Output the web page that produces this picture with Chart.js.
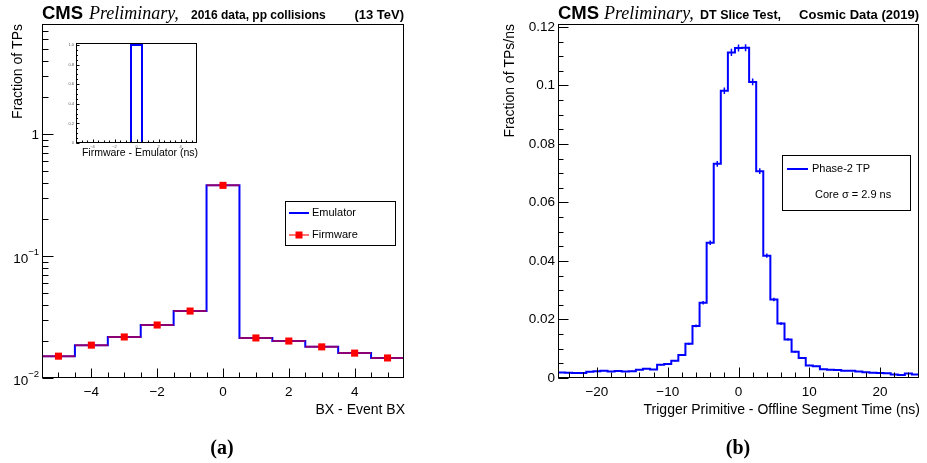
<!DOCTYPE html>
<html>
<head>
<meta charset="utf-8">
<script src="https://cdn.jsdelivr.net/npm/chart.js@4.4.1/dist/chart.umd.min.js"></script>
<style>
  body { margin: 0; background: #fff; width: 927px; height: 463px; overflow: hidden; position: relative; }
  canvas { position: absolute; top: 0; }
</style>
</head>
<body>
<canvas id="chart-bx" width="463" height="463" style="left:0"></canvas>
<canvas id="chart-inset" width="150" height="125" style="left:60px;top:35px"></canvas>
<canvas id="chart-time" width="464" height="463" style="left:463px"></canvas>
<script>
// ---- (a) BX of trigger primitives, 2016 pp data ----
const bxBins = [-5, -4, -3, -2, -1, 0, 1, 2, 3, 4, 5];
const emulatorFrac = [0.0151, 0.0186, 0.0217, 0.0272, 0.0354, 0.380, 0.0213, 0.0201, 0.0180, 0.0160, 0.0146];
const firmwareFrac = [0.0151, 0.0186, 0.0217, 0.0272, 0.0354, 0.380, 0.0213, 0.0201, 0.0180, 0.0160, 0.0146];
const bxTicks = [-4, -2, 0, 2, 4];
const logTicks = [0.01, 0.1, 1];

// inset: firmware - emulator
const diffBins = [-5, -4, -3, -2, -1, 0, 1, 2, 3, 4, 5];
const diffFrac = [0, 0, 0, 0, 0, 1, 0, 0, 0, 0, 0];
const diffXTicks = [-4, -2, 0, 2, 4];
const diffYTicks = [0, 0.2, 0.4, 0.6, 0.8, 1];

// ---- (b) DT slice test, cosmics 2019 ----
const timeBins = [-25, -24, -23, -22, -21, -20, -19, -18, -17, -16, -15, -14, -13, -12, -11, -10, -9, -8, -7, -6,
  -5, -4, -3, -2, -1, 0, 1, 2, 3, 4, 5, 6, 7, 8, 9, 10, 11, 12, 13, 14, 15, 16, 17, 18, 19, 20, 21, 22, 23, 24, 25];
const phase2Frac = [0.0019, 0.0018, 0.0017, 0.0017, 0.0021, 0.0023, 0.0025, 0.0022, 0.0024, 0.0022, 0.0023, 0.0028,
  0.0032, 0.0029, 0.0045, 0.0048, 0.0059, 0.0079, 0.0117, 0.0178, 0.0257, 0.0462, 0.0732, 0.0982, 0.1113, 0.1128,
  0.1129, 0.1012, 0.0707, 0.0418, 0.0268, 0.0186, 0.0132, 0.0090, 0.0068, 0.0043, 0.0040, 0.0030, 0.0028, 0.0027,
  0.0025, 0.0025, 0.0022, 0.0020, 0.0018, 0.0017, 0.0016, 0.0012, 0.0010, 0.0015, 0.0012];
const phase2Err = [0.00016, 0.00015, 0.00015, 0.00015, 0.00016, 0.00017, 0.00018, 0.00017, 0.00018, 0.00017, 0.00017,
  0.00019, 0.0002, 0.00019, 0.00024, 0.00025, 0.00028, 0.00032, 0.00039, 0.00048, 0.00058, 0.00077, 0.00097, 0.00113,
  0.0012, 0.0012, 0.0012, 0.00114, 0.00096, 0.00074, 0.00059, 0.00049, 0.00041, 0.00034, 0.0003, 0.00024, 0.00023,
  0.0002, 0.00019, 0.00019, 0.00018, 0.00018, 0.00017, 0.00016, 0.00015, 0.00015, 0.00014, 0.00012, 0.00011, 0.00014,
  0.00012];
const timeTicks = [-20, -10, 0, 10, 20];
const fracTicks = [0, 0.02, 0.04, 0.06, 0.08, 0.1, 0.12];

const SANS = "'Liberation Sans', Arial, Helvetica, sans-serif";
const SERIF = "'Liberation Serif', 'Times New Roman', serif";
Chart.defaults.font.family = SANS;
Chart.defaults.color = '#000';
Chart.defaults.animation = false;

// histogram outline: one horizontal segment per bin, joined by verticals
function histLine(centers, vals, w) {
  const pts = [];
  centers.forEach((c, i) => {
    pts.push({x: c - w / 2, y: vals[i]}, {x: c + w / 2, y: vals[i]});
  });
  return pts;
}
// horizontal bars (bin width) as separate segments
function xBars(centers, vals, w) {
  const pts = [];
  centers.forEach((c, i) => {
    pts.push({x: c - w / 2, y: vals[i]}, {x: c + w / 2, y: vals[i]}, {x: c, y: null});
  });
  return pts;
}
// vertical error bars
function yBars(centers, vals, errs) {
  const pts = [];
  centers.forEach((c, i) => {
    pts.push({x: c, y: vals[i] - errs[i]}, {x: c, y: vals[i] + errs[i]}, {x: c, y: null});
  });
  return pts;
}
function range(a, b, step) {
  const out = [];
  for (let v = a; v <= b + 1e-9; v += step) out.push(+v.toFixed(6));
  return out;
}
function minus(v) { return String(v).replace('-', '\u2212'); }

function txt(ctx, s, x, y, font, align, base) {
  ctx.font = font;
  ctx.textAlign = align || 'left';
  ctx.textBaseline = base || 'alphabetic';
  ctx.fillStyle = '#000';
  ctx.fillText(s, x, y);
}

// ROOT style frame with ticks pointing into the pad
function drawFrame(chart, cfg) {
  const ctx = chart.ctx, a = chart.chartArea;
  const L = Math.round(a.left) + 0.5, R = Math.round(a.right) - 0.5;
  const T = Math.round(a.top) + 0.5, B = Math.round(a.bottom) - 0.5;
  ctx.save();
  ctx.strokeStyle = '#000';
  ctx.lineWidth = 1;
  ctx.beginPath();
  ['x', 'y'].forEach(id => {
    const sc = chart.scales[id];
    [[cfg[id].major, cfg[id].len[0]], [cfg[id].minor, cfg[id].len[1]]].forEach(([vals, len]) => {
      vals.forEach(v => {
        const p = Math.round(sc.getPixelForValue(v)) + 0.5;
        if (id === 'x') { if (p < L || p > R) return; ctx.moveTo(p, B); ctx.lineTo(p, B - len); }
        else { if (p < T || p > B + 1) return; ctx.moveTo(L, p); ctx.lineTo(L + len, p); }
      });
    });
  });
  ctx.stroke();
  ctx.lineWidth = cfg.frameWidth || 1;
  ctx.strokeRect(L, T, R - L, B - T);
  ctx.restore();
}

function fixSize(w, h) {
  return function (scale) {
    if (w !== undefined) scale.width = w;
    if (h !== undefined) scale.height = h;
  };
}
function setTicks(list) {
  return function (scale) { scale.ticks = list.map(v => ({value: v})); };
}

// ---------------- (a) main ----------------
let logMinor = [];
logTicks.forEach(d => { for (let k = 2; k <= 9; k++) if (k * d <= 8) logMinor.push(k * d); });

new Chart(document.getElementById('chart-bx'), {
  type: 'line',
  data: {
    datasets: [
      {
        label: 'Firmware',
        data: bxBins.map((c, i) => ({x: c, y: firmwareFrac[i]})),
        showLine: false,
        pointStyle: 'rect',
        pointRadius: 5,
        pointBorderWidth: 0,
        pointBackgroundColor: '#ff0000'
      },
      {
        label: 'Firmware bars',
        data: xBars(bxBins, firmwareFrac, 1),
        borderColor: 'rgba(255,0,0,0.55)',
        borderWidth: 2,
        pointRadius: 0
      },
      {
        label: 'Emulator',
        data: histLine(bxBins, emulatorFrac, 1),
        borderColor: '#0000ff',
        borderWidth: 2,
        pointRadius: 0
      }
    ]
  },
  options: {
    responsive: false,
    layout: {padding: {left: 0, right: 59, top: 24, bottom: 55}},
    plugins: {legend: {display: false}, tooltip: {enabled: false}},
    scales: {
      x: {
        type: 'linear', min: -5.5, max: 5.5,
        grid: {display: false, drawTicks: false}, border: {display: false},
        afterFit: fixSize(undefined, 30),
        afterBuildTicks: setTicks(bxTicks),
        ticks: {padding: 6, font: {size: 13.5}, maxRotation: 0, autoSkip: false, callback: v => minus(v)}
      },
      y: {
        type: 'logarithmic', min: 0.01, max: 8, bounds: 'data',
        grid: {display: false, drawTicks: false}, border: {display: false},
        afterFit: fixSize(42, undefined),
        afterBuildTicks: setTicks(logTicks),
        ticks: {display: false}
      }
    }
  },
  plugins: [{
    id: 'decorA',
    afterDraw(chart) {
      const ctx = chart.ctx;
      drawFrame(chart, {
        x: {major: bxTicks, minor: range(-5.5, 5.5, 0.5), len: [9, 5]},
        y: {major: logTicks, minor: logMinor, len: [11, 6]}
      });
      // log tick labels with superscripts
      const ys = chart.scales.y;
      const right = chart.chartArea.left - 3;
      logTicks.forEach(v => {
        const p = ys.getPixelForValue(v);
        if (v === 1) { txt(ctx, '1', right, p + 5, '13.5px ' + SANS, 'right'); return; }
        const exp = '\u2212' + Math.round(-Math.log10(v));
        ctx.font = '9.5px ' + SANS;
        const we = ctx.measureText(exp).width;
        txt(ctx, exp, right, p - 1, '9.5px ' + SANS, 'right');
        txt(ctx, '10', right - we, p + 7, '13.5px ' + SANS, 'right');
      });
      // header
      txt(ctx, 'CMS', 42, 19, 'bold 18.5px ' + SANS);
      txt(ctx, 'Preliminary,', 89, 19, 'italic 18px ' + SERIF);
      txt(ctx, '2016 data, pp collisions', 191, 19, 'bold 12px ' + SANS);
      txt(ctx, '(13 TeV)', 404, 19, 'bold 13px ' + SANS, 'right');
      // axis titles
      txt(ctx, 'BX - Event BX', 405, 414, '14px ' + SANS, 'right');
      ctx.save();
      ctx.translate(18, 24);
      ctx.rotate(-Math.PI / 2);
      txt(ctx, 'Fraction of TPs', 0, 0, '14px ' + SANS, 'right', 'middle');
      ctx.restore();
      // legend
      ctx.save();
      ctx.strokeStyle = '#000';
      ctx.lineWidth = 1;
      ctx.strokeRect(285.5, 201.5, 110, 44);
      ctx.beginPath();
      ctx.strokeStyle = '#0000ff'; ctx.lineWidth = 2;
      ctx.moveTo(289, 213); ctx.lineTo(309, 213); ctx.stroke();
      ctx.beginPath();
      ctx.strokeStyle = 'rgba(255,0,0,0.55)';
      ctx.moveTo(289, 235); ctx.lineTo(309, 235); ctx.stroke();
      ctx.fillStyle = '#ff0000';
      ctx.fillRect(295.5, 231.5, 7, 7);
      ctx.restore();
      txt(ctx, 'Emulator', 312, 213, '11px ' + SANS, 'left', 'middle');
      txt(ctx, 'Firmware', 312, 235, '11px ' + SANS, 'left', 'middle');
      // panel letter
      txt(ctx, '(a)', 222, 454, 'bold 20px ' + SERIF, 'center');
    }
  }]
});

// ---------------- (a) inset ----------------
new Chart(document.getElementById('chart-inset'), {
  type: 'line',
  data: {
    datasets: [{
      label: 'Firmware - Emulator',
      data: histLine(diffBins, diffFrac, 1),
      borderColor: '#0000ff',
      borderWidth: 2,
      pointRadius: 0
    }]
  },
  options: {
    responsive: false,
    layout: {padding: {left: 0, right: 13, top: 8, bottom: 7}},
    plugins: {legend: {display: false}, tooltip: {enabled: false}},
    scales: {
      x: {
        type: 'linear', min: -5.5, max: 5.5,
        grid: {display: false, drawTicks: false}, border: {display: false},
        afterFit: fixSize(undefined, 10),
        afterBuildTicks: setTicks(diffXTicks),
        ticks: {padding: 1, font: {size: 4}, color: '#555', maxRotation: 0, autoSkip: false, callback: v => minus(v)}
      },
      y: {
        type: 'linear', min: 0, max: 1.02,
        grid: {display: false, drawTicks: false}, border: {display: false},
        afterFit: fixSize(16, undefined),
        afterBuildTicks: setTicks(diffYTicks),
        ticks: {padding: 2, font: {size: 4}, color: '#555', autoSkip: false}
      }
    }
  },
  plugins: [{
    id: 'decorInset',
    afterDraw(chart) {
      drawFrame(chart, {
        x: {major: diffXTicks, minor: range(-5.5, 5.5, 0.5), len: [3, 2]},
        y: {major: diffYTicks, minor: range(0, 1, 0.05), len: [3, 1.5]}
      });
      txt(chart.ctx, 'Firmware - Emulator (ns)', 138, 118, '10.5px ' + SANS, 'right', 'middle');
    }
  }]
});

// ---------------- (b) ----------------
new Chart(document.getElementById('chart-time'), {
  type: 'line',
  data: {
    datasets: [
      {
        label: 'errors',
        data: yBars(timeBins, phase2Frac, phase2Err),
        borderColor: '#0000ff',
        borderWidth: 1.5,
        pointRadius: 0
      },
      {
        label: 'Phase-2 TP',
        data: histLine(timeBins, phase2Frac, 1),
        borderColor: '#0000ff',
        borderWidth: 2,
        pointRadius: 0
      }
    ]
  },
  options: {
    responsive: false,
    layout: {padding: {left: 0, right: 8, top: 24, bottom: 55}},
    plugins: {legend: {display: false}, tooltip: {enabled: false}},
    scales: {
      x: {
        type: 'linear', min: -25.5, max: 25.5,
        grid: {display: false, drawTicks: false}, border: {display: false},
        afterFit: fixSize(undefined, 30),
        afterBuildTicks: setTicks(timeTicks),
        ticks: {padding: 6, font: {size: 13.5}, maxRotation: 0, autoSkip: false, callback: v => minus(v)}
      },
      y: {
        type: 'linear', min: 0, max: 0.121,
        grid: {display: false, drawTicks: false}, border: {display: false},
        afterFit: fixSize(95, undefined),
        afterBuildTicks: setTicks(fracTicks),
        ticks: {padding: 3, font: {size: 13.5}, autoSkip: false, callback: v => String(+v.toFixed(3))}
      }
    }
  },
  plugins: [{
    id: 'decorB',
    afterDraw(chart) {
      const ctx = chart.ctx;
      drawFrame(chart, {
        x: {major: timeTicks, minor: range(-24, 24, 2), len: [10, 5]},
        y: {major: fracTicks, minor: range(0, 0.12, 0.005), len: [10, 5]}
      });
      // header (global x - 463)
      txt(ctx, 'CMS', 95, 19, 'bold 18.5px ' + SANS);
      txt(ctx, 'Preliminary,', 141, 19, 'italic 18px ' + SERIF);
      txt(ctx, 'DT Slice Test,', 237, 19, 'bold 12.5px ' + SANS);
      txt(ctx, 'Cosmic Data (2019)', 456, 19, 'bold 13px ' + SANS, 'right');
      // axis titles
      txt(ctx, 'Trigger Primitive - Offline Segment Time (ns)', 457, 414, '14px ' + SANS, 'right');
      ctx.save();
      ctx.translate(47, 24);
      ctx.rotate(-Math.PI / 2);
      txt(ctx, 'Fraction of TPs/ns', 0, 0, '14px ' + SANS, 'right', 'middle');
      ctx.restore();
      // legend
      ctx.save();
      ctx.strokeStyle = '#000'; ctx.lineWidth = 1;
      ctx.strokeRect(319.5, 155.5, 128, 55);
      ctx.beginPath();
      ctx.strokeStyle = '#0000ff'; ctx.lineWidth = 2;
      ctx.moveTo(324, 169); ctx.lineTo(345, 169); ctx.stroke();
      ctx.restore();
      txt(ctx, 'Phase-2 TP', 349, 169, '11px ' + SANS, 'left', 'middle');
      txt(ctx, 'Core \u03c3 = 2.9 ns', 352, 195, '11px ' + SANS, 'left', 'middle');
      // panel letter
      txt(ctx, '(b)', 275, 454, 'bold 20px ' + SERIF, 'center');
    }
  }]
});
</script>
</body>
</html>
